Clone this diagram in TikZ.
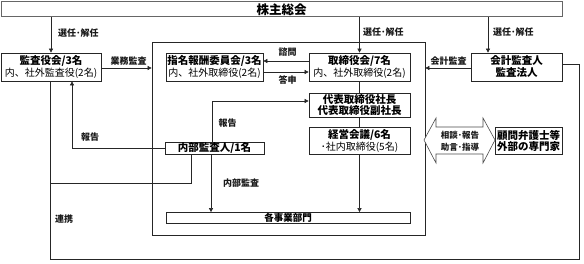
\documentclass[tikz,border=0pt]{standalone}
\usepackage{fontspec}
\setmainfont{Noto Sans CJK JP}
\usetikzlibrary{arrows.meta}
\newcommand{\tb}[1]{{\fontsize{10.5}{12}\selectfont\bfseries #1}}
\begin{document}
\begin{tikzpicture}[x=1pt,y=-1pt,
  box/.style={draw=black!85, line width=0.7pt, fill=white, inner sep=0pt, align=center,
    font=\fontsize{10}{12}\selectfont},
  conn/.style={draw=black!85, line width=0.6pt},
  arr/.style={conn, -{Triangle[length=4pt,width=4pt]}},
  lbl/.style={font=\fontsize{9}{10}\selectfont\bfseries, inner sep=0pt, text=black!90},
  dbl/.style={draw=black!70, line width=0.6pt, fill=white}]
\useasboundingbox (0,0) rectangle (584,264);

% outer container
\node[draw=black!85, line width=0.7pt, minimum width=273pt, minimum height=193pt, inner sep=0pt] (inner) at (288.5,138.5) {};

% nodes
\node[box, draw=black!60, line width=1pt, minimum width=561pt, minimum height=15pt,
  font=\fontsize{12.5}{14}\selectfont\bfseries] (top) at (281.5,9.5) {株主総会};
\node[box, minimum width=100pt, minimum height=28pt] (kansa) at (51,67) {\tb{監査役会/3名}\\内、社外監査役(2名)};
\node[box, minimum width=97pt, minimum height=28pt] (shimei) at (214.5,67) {\tb{指名報酬委員会/3名}\\内、社外取締役(2名)};
\node[box, minimum width=101pt, minimum height=28pt] (tori) at (359.5,67) {\tb{取締役会/7名}\\内、社外取締役(2名)};
\node[box, minimum width=91pt, minimum height=28pt] (kaikei) at (516.5,67) {\tb{会計監査人}\\\tb{監査法人}};
\node[box, minimum width=101pt, minimum height=24pt] (daihyo) at (359.5,105) {\tb{代表取締役社長}\\[-1pt]\tb{代表取締役副社長}};
\node[box, minimum width=101pt, minimum height=27pt] (keiei) at (359.5,140.5) {\tb{経営会議/6名}\\･社内取締役(5名)};
\node[box, minimum width=99pt, minimum height=12pt] (naibu) at (214.5,148) {\tb{内部監査人/1名}};
\node[box, minimum width=244pt, minimum height=11pt, font=\fontsize{9.5}{10}\selectfont\bfseries] (jigyo) at (288,218) {各事業部門};
\node[box, minimum width=67pt, minimum height=27pt, line width=0.9pt] (komon) at (528.5,140.5) {\tb{顧問弁護士等}\\[-1pt]\tb{外部の専門家}};

% appointment arrows
\draw[arr] (top.south -| kansa.north) -- (kansa.north);
\node[lbl, anchor=west] (l1) at (58,33) {選任･解任};
\draw[arr] (top.south -| tori.north) -- (tori.north);
\node[lbl, anchor=west] (l2) at (363,32) {選任･解任};
\draw[arr] (top.south -| 488,0) -- (488,0 |- kaikei.north);
\node[lbl, anchor=west] (l3) at (493,32) {選任･解任};

% audits
\draw[arr] (kansa.east |- 0,68) -- (inner.west |- 0,68);
\node[lbl] (l4) at (128.5,61) {業務監査};
\draw[arr] (kaikei.west |- 0,68) -- (inner.east |- 0,68);
\node[lbl] (l5) at (448.5,61) {会計監査};

% consult / report
\draw[arr] (tori.west |- 0,61) -- (shimei.east |- 0,61);
\node[lbl] (l6) at (287.5,52) {諮問};
\draw[arr] (shimei.east |- 0,72) -- (tori.west |- 0,72);
\node[lbl] (l7) at (287.5,80.5) {答申};

% chain
\draw[conn] (tori.south) -- (daihyo.north);
\draw[conn] (daihyo.south) -- (keiei.north);
\draw[arr] (keiei.south) -- (jigyo.north -| keiei.south);

% internal audit
\draw[arr] (naibu.north -| 212,0) |- (daihyo.west |- 0,101);
\node[lbl] (l8) at (227.5,123) {報告};
\draw[arr] (naibu.west) -| (kansa.south -| 72,0);
\node[lbl] (l9) at (90,137) {報告};
\draw[arr] (naibu.south -| 211,0) -- (jigyo.north -| 211,0);
\node[lbl] (l10) at (241,183) {内部監査};
\draw[conn] (naibu.south -| 191,0) |- (50,183);

% liaison
\coordinate (c1) at (579,64);
\coordinate (c2) at (579,259);
\coordinate (c3) at (50,259);
\draw[conn] (kaikei.east |- c1) -- (c1) -- (c2) -- (c3) -- (kansa.south -| c3);
\node[lbl] (l11) at (64,219) {連携};

% double block arrow
\draw[dbl] (424,140) -- (436,118) -- (436,127) -- (483,127) -- (483,118) -- (495,140)
  -- (483,163) -- (483,154) -- (436,154) -- (436,163) -- cycle;
\node[lbl, align=center, font=\fontsize{8.5}{12}\selectfont\bfseries] (l12) at (460,141) {相談･報告\\助言･指導};
\end{tikzpicture}
\end{document}
